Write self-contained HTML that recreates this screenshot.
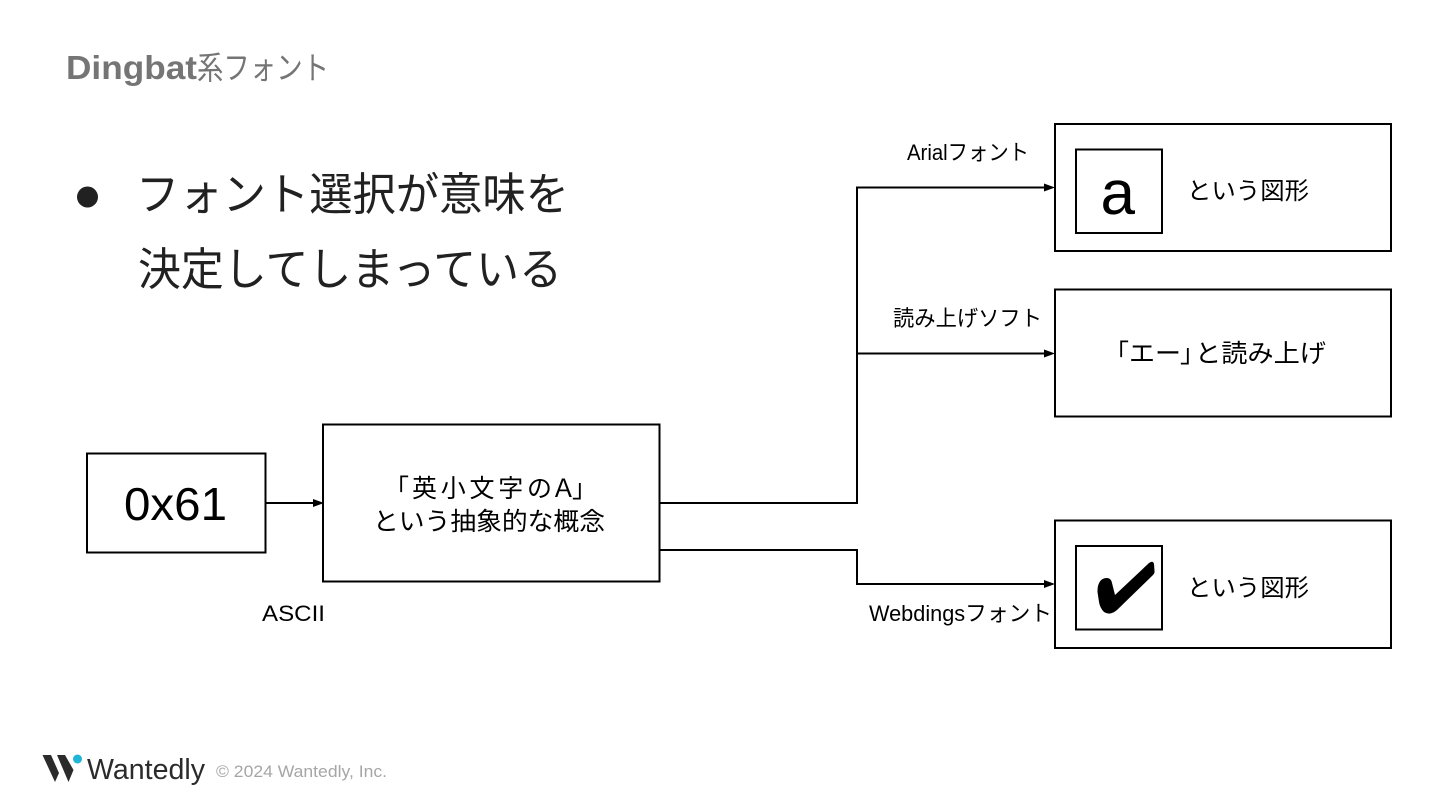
<!DOCTYPE html>
<html lang="ja">
<head>
<meta charset="utf-8">
<style>
html,body{margin:0;padding:0;background:#fff;width:1440px;height:810px;overflow:hidden}
svg{display:block}
text{font-family:"Liberation Sans","Noto Sans CJK JP",sans-serif;fill:#000}
</style>
</head>
<body>
<svg width="1440" height="810" viewBox="0 0 1440 810" xmlns="http://www.w3.org/2000/svg">
<rect width="1440" height="810" fill="#fff"/>

<!-- Title -->
<text x="66" y="79" font-size="33" font-weight="700" style="fill:#757575" textLength="131" lengthAdjust="spacingAndGlyphs">Dingbat</text>
<text x="197" y="79" font-size="32" style="fill:#757575" textLength="132" lengthAdjust="spacingAndGlyphs">系フォント</text>

<!-- Bullet text -->
<circle cx="87.500" cy="197" r="10.500" fill="#212121"/>
<text x="136" y="210" font-size="45" style="fill:#212121" textLength="433" lengthAdjust="spacingAndGlyphs">フォント選択が意味を</text>
<text x="138" y="285" font-size="45" style="fill:#212121" textLength="424" lengthAdjust="spacingAndGlyphs">決定してしまっている</text>

<!-- Boxes -->
<g fill="#fff" stroke="#000" stroke-width="2">
<rect x="87" y="453.500" width="178.500" height="99"/>
<rect x="323" y="424.500" width="336.500" height="157"/>
<rect x="1055" y="124" width="336" height="127"/>
<rect x="1055" y="289.500" width="336" height="127"/>
<rect x="1055" y="520.500" width="336" height="127.500"/>
<rect x="1076" y="149.500" width="86" height="83.500"/>
<rect x="1076" y="546" width="86" height="83.500"/>
</g>

<!-- Connectors -->
<g fill="none" stroke="#000" stroke-width="2">
<path d="M266 503H316"/>
<path d="M660 503H857V187.500H1047"/>
<path d="M857 353.500H1047"/>
<path d="M660 550H857V584H1047"/>
</g>
<g fill="#000">
<polygon points="313,499 324,503 313,507"/>
<polygon points="1044,183.500 1055,187.500 1044,191.500"/>
<polygon points="1044,349.500 1055,353.500 1044,357.500"/>
<polygon points="1044,580 1055,584 1044,588"/>
</g>

<!-- Box labels -->
<text x="124" y="520" font-size="46" textLength="103" lengthAdjust="spacingAndGlyphs">0x61</text>
<text x="384" y="497" font-size="25">「</text>
<text x="412" y="497" font-size="25" textLength="140" lengthAdjust="spacing">英小文字の</text>
<text x="551" y="497" font-size="25">Ａ</text>
<text x="572" y="497" font-size="25">」</text>
<text x="373" y="530" font-size="25" textLength="232" lengthAdjust="spacingAndGlyphs">という抽象的な概念</text>
<text x="1100.500" y="214" font-size="62">a</text>
<text x="1187" y="199" font-size="24" textLength="122" lengthAdjust="spacingAndGlyphs">という図形</text>
<text x="1104" y="362" font-size="25">「</text>
<text x="1129" y="362" font-size="25" textLength="52" lengthAdjust="spacingAndGlyphs">エー</text>
<text x="1180" y="362" font-size="25">」</text>
<text x="1195" y="362" font-size="25" textLength="131" lengthAdjust="spacingAndGlyphs">と読み上げ</text>
<text x="1187" y="596" font-size="24" textLength="122" lengthAdjust="spacingAndGlyphs">という図形</text>

<!-- Check mark -->
<path d="M1098 586Q1100 578 1107 578Q1111 578 1112 583L1115 595L1149 563Q1153 560 1154 564L1154.500 571Q1155 573 1153 575L1117 610Q1110 616 1104 612Q1100 608 1099 602L1097.500 592Q1097.500 588 1098 586Z" fill="#000"/>

<!-- Connector labels -->
<text x="907" y="160" font-size="22" textLength="122" lengthAdjust="spacingAndGlyphs">Arialフォント</text>
<text x="893" y="326" font-size="22" textLength="149" lengthAdjust="spacingAndGlyphs">読み上げソフト</text>
<text x="869" y="621" font-size="22" textLength="183" lengthAdjust="spacingAndGlyphs">Webdingsフォント</text>
<text x="262" y="621" font-size="22" textLength="63" lengthAdjust="spacingAndGlyphs">ASCII</text>

<!-- Footer logo -->
<g fill="#2b2b2b">
<polygon points="42.500,755 51,755 59,773 55,782"/>
<polygon points="57,755 65,755 73.500,770 68.500,782"/>
</g>
<circle cx="77.500" cy="759" r="4.500" fill="#1fb6d6"/>
<text x="87" y="779" font-size="29" style="fill:#2b2b2b" textLength="118" lengthAdjust="spacingAndGlyphs">Wantedly</text>
<text x="216" y="777" font-size="17" style="fill:#a6a6a6" textLength="171" lengthAdjust="spacingAndGlyphs">© 2024 Wantedly, Inc.</text>
</svg>
</body>
</html>
